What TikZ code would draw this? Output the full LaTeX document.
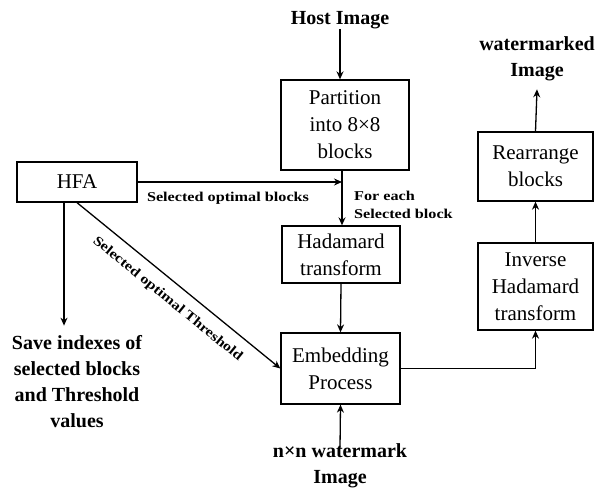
\documentclass[tikz,border=0pt]{standalone}
\usepackage{fontspec}
\setmainfont{Liberation Serif}
\newfontfamily\wide[FakeStretch=1.2]{Liberation Serif}
\usetikzlibrary{arrows.meta,calc}
\begin{document}
\begin{tikzpicture}[x=1pt,y=-1pt,
  box/.style={draw,line width=1.3pt,align=center,inner sep=0pt,font=\fontsize{21}{27}\selectfont},
  lbl/.style={align=center,font=\bfseries\fontsize{20}{26}\selectfont,inner sep=0pt},
  small/.style={font=\wide\bfseries\fontsize{13.5}{18}\selectfont,inner sep=0pt},
  arr/.style={line width=1.3pt,-{Stealth[length=8pt,width=7pt]}},
  ln/.style={line width=1.3pt}]
\useasboundingbox (0,0) rectangle (596,496);
\node[lbl] (host) at (340,20) {Host Image};
\node[box,minimum width=128pt,minimum height=90pt] (part) at (345,125) {Partition\\into 8×8\\blocks};
\node[box,minimum width=120pt,minimum height=40pt] (hfa) at (77,182) {HFA};
\node[box,minimum width=118pt,minimum height=57pt] (had) at (341,254.5) {Hadamard\\transform};
\node[box,minimum width=119pt,minimum height=71pt] (emb) at (340.5,368.5) {Embedding\\Process};
\node[box,minimum width=115pt,minimum height=87pt] (inv) at (535.5,286.5) {Inverse\\Hadamard\\transform};
\node[box,minimum width=115pt,minimum height=69pt] (rea) at (535.5,166.5) {Rearrange\\blocks};
\node[lbl] (wm) at (537,59) {watermarked\\Image};
\node[lbl] (save) at (77,382) {Save indexes of\\selected blocks\\and Threshold\\values};
\node[lbl] (wmi) at (340,466) {n×n watermark\\Image};
\coordinate (j) at (342,182);
\coordinate (top) at (342,170);
\draw[arr] (host.south) -- (host.south |- part.north);
\draw[ln] (top) -- (j);
\draw[arr] (j) -- (j |- had.north);
\draw[arr] (hfa.east) -- (j);
\node[small,anchor=north] (sob) at (228,192) {Selected optimal blocks};
\node[small,anchor=west,align=left] (fes) at (354,205) {For each\\Selected block};
\draw[arr] ([yshift=-4pt]wmi.north) -- (emb.south);
\draw[arr] (had.south) -- (emb.north);
\draw[arr] (emb.east) -| (inv.south);
\draw[arr] (inv.north) -- (rea.south);
\draw[arr] (rea.north) -- ([yshift=-8pt]wm.south);
\draw[arr] ([xshift=-13pt]hfa.south) -- ([xshift=-13pt,yshift=10pt]save.north);
\draw[arr] (hfa.south) -- node[small,sloped,below=11pt] {Selected optimal Threshold} (emb.west);
\end{tikzpicture}
\end{document}
